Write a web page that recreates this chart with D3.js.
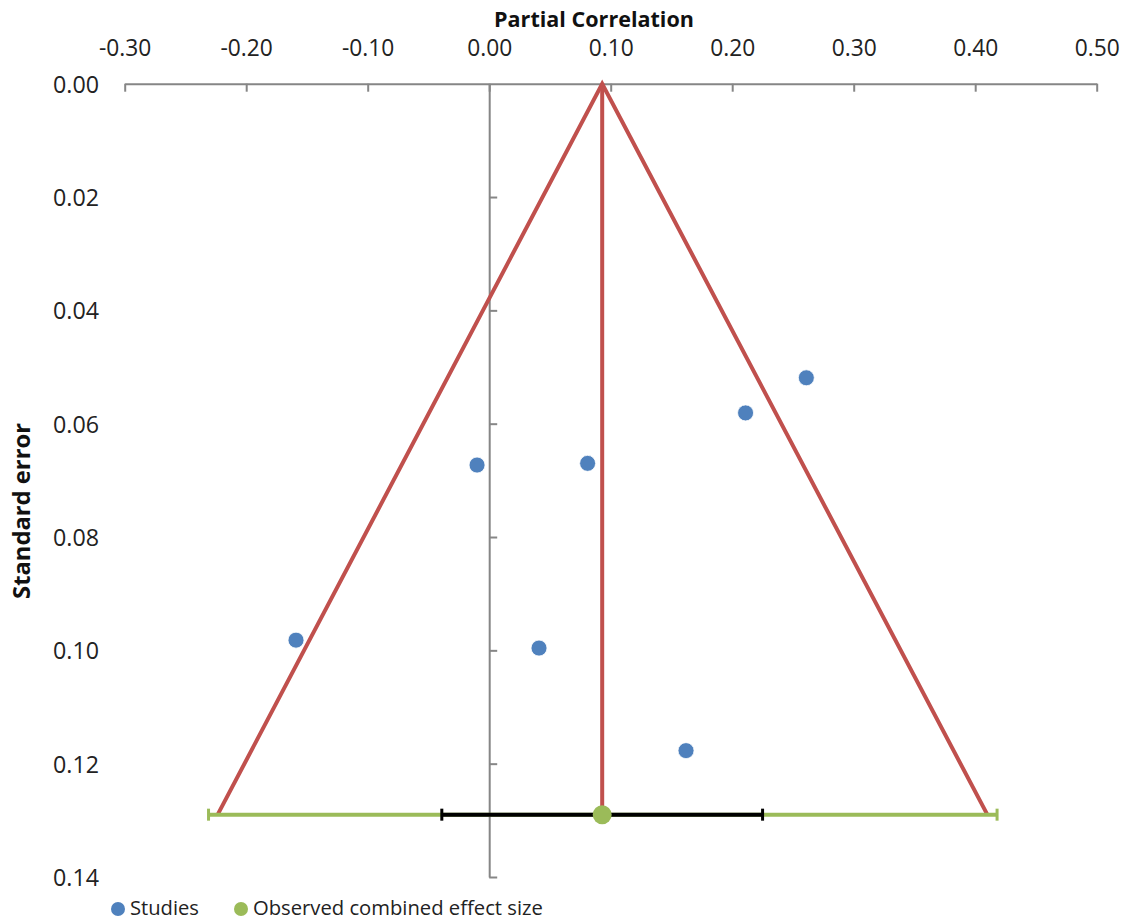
<!DOCTYPE html>
<html><head><meta charset="utf-8">
<script src="https://cdn.jsdelivr.net/npm/d3@7"></script>
<style>body{margin:0;background:#fff;} text{font-family:"Open Sans", Lato, sans-serif;}</style>
</head><body>
<svg id="c" width="1134" height="920"></svg>
<script>
// Data
const studyR  = [0.261, 0.211, -0.010, 0.081, -0.159, 0.041, 0.162];
const studySE = [0.0519, 0.0581, 0.0673, 0.0670, 0.0982, 0.0996, 0.1177];
const combinedR = 0.093;
const combinedSE = 0.129;
const funnelEnds = [-0.2235, 0.410];
const ciOuter = [-0.231, 0.418];
const ciInner = [-0.039, 0.225];
const xTicks = [-0.30, -0.20, -0.10, 0.00, 0.10, 0.20, 0.30, 0.40, 0.50];
const yTicks = [0.00, 0.02, 0.04, 0.06, 0.08, 0.10, 0.12, 0.14];
const legendLabels = ["Studies", "Observed combined effect size"];

const svg = d3.select("#c");
const x = d3.scaleLinear().domain([-0.30, 0.50]).range([124.7, 1096.7]);
const y = d3.scaleLinear().domain([0, 0.14]).range([83.7, 877]);
const fmt = d => d.toFixed(2);
const axisCol = "#868686", red = "#C0504D", blue = "#4F81BD", green = "#9BBB59";

// fit helper: font size so that a text's width matches a target
function fitSize(node, fs, target) {
  return fs * target / node.getComputedTextLength();
}

// top axis
const gx = svg.append("g").attr("transform", `translate(0,${y(0)})`)
  .call(d3.axisTop(x).tickValues(xTicks).tickFormat(fmt).tickSizeInner(-8).tickSizeOuter(0).tickPadding(28));
gx.select(".domain").attr("stroke", axisCol).attr("stroke-width", 2);
gx.selectAll(".tick line").attr("stroke", axisCol).attr("stroke-width", 2);
const gxt = gx.selectAll(".tick text").attr("font-size", 20).attr("fill", "#222");
const fsx = fitSize(gxt.filter(d => d === 0).node(), 20, 45);
gxt.attr("font-size", fsx.toFixed(2));

// vertical axis at x=0 with ticks to the right
const gy = svg.append("g").attr("transform", `translate(${x(0)},0)`)
  .call(d3.axisRight(y).tickValues(yTicks.filter(d => d > 0)).tickFormat("").tickSizeInner(8).tickSizeOuter(0));
gy.select(".domain").attr("stroke", axisCol).attr("stroke-width", 2);
gy.selectAll(".tick line").attr("stroke", axisCol).attr("stroke-width", 2);

// left labels
const gl = svg.append("g").attr("transform", `translate(99,0)`)
  .call(d3.axisLeft(y).tickValues(yTicks).tickFormat(fmt).tickSize(0).tickPadding(0));
gl.select(".domain").remove();
const glt = gl.selectAll(".tick text").attr("font-size", 20).attr("fill", "#222").attr("dy", "0.36em");
const fsy = fitSize(glt.filter(d => d === 0).node(), 20, 46);
glt.attr("font-size", fsy.toFixed(2));

// titles
const t1 = svg.append("text").attr("x", 594).attr("y", 27).attr("text-anchor", "middle")
  .attr("font-size", 20).attr("font-weight", "bold").attr("fill", "#111").text("Partial Correlation");
t1.attr("font-size", fitSize(t1.node(), 20, 200).toFixed(2));
const t2 = svg.append("text").attr("transform", `translate(30,511) rotate(-90)`)
  .attr("text-anchor", "middle").attr("font-size", 20).attr("font-weight", "bold").attr("fill", "#111").text("Standard error");
t2.attr("font-size", fitSize(t2.node(), 20, 176).toFixed(2));

// funnel
const line = d3.line().x(d => x(d[0])).y(d => y(d[1]));
svg.append("path").attr("d", line([[funnelEnds[0], combinedSE], [combinedR, 0], [funnelEnds[1], combinedSE]]))
  .attr("fill", "none").attr("stroke", red).attr("stroke-width", 4).attr("stroke-linejoin", "miter");
svg.append("line").attr("x1", x(combinedR)).attr("x2", x(combinedR)).attr("y1", y(0)).attr("y2", y(combinedSE))
  .attr("stroke", red).attr("stroke-width", 4);

// CI bars
function bar(ext, col) {
  svg.append("line").attr("x1", x(ext[0])).attr("x2", x(ext[1])).attr("y1", y(combinedSE)).attr("y2", y(combinedSE))
    .attr("stroke", col).attr("stroke-width", 4);
  ext.forEach(v => svg.append("line").attr("x1", x(v)).attr("x2", x(v))
    .attr("y1", y(combinedSE) - 6).attr("y2", y(combinedSE) + 6).attr("stroke", col).attr("stroke-width", 3));
}
bar(ciOuter, green);
bar(ciInner, "#000");
svg.append("circle").attr("cx", x(combinedR)).attr("cy", y(combinedSE)).attr("r", 9.5).attr("fill", green);

// studies
svg.selectAll("circle.s").data(studyR).enter().append("circle").attr("class", "s")
  .attr("cx", d => x(d)).attr("cy", (d, i) => y(studySE[i])).attr("r", 8)
  .attr("fill", blue).attr("stroke", "#fff").attr("stroke-width", 0.8);

// legend
const lg = svg.append("g");
const lx = [118, 241];
const lc = [blue, green];
const lw = [69, 290];
legendLabels.forEach((t, i) => {
  lg.append("circle").attr("cx", lx[i]).attr("cy", 909).attr("r", 7).attr("fill", lc[i]);
  const tt = lg.append("text").attr("x", lx[i] + 12).attr("y", 915).attr("font-size", 19).attr("fill", "#222").text(t);
  tt.attr("font-size", fitSize(tt.node(), 19, lw[i]).toFixed(2));
});
</script>
</body></html>
